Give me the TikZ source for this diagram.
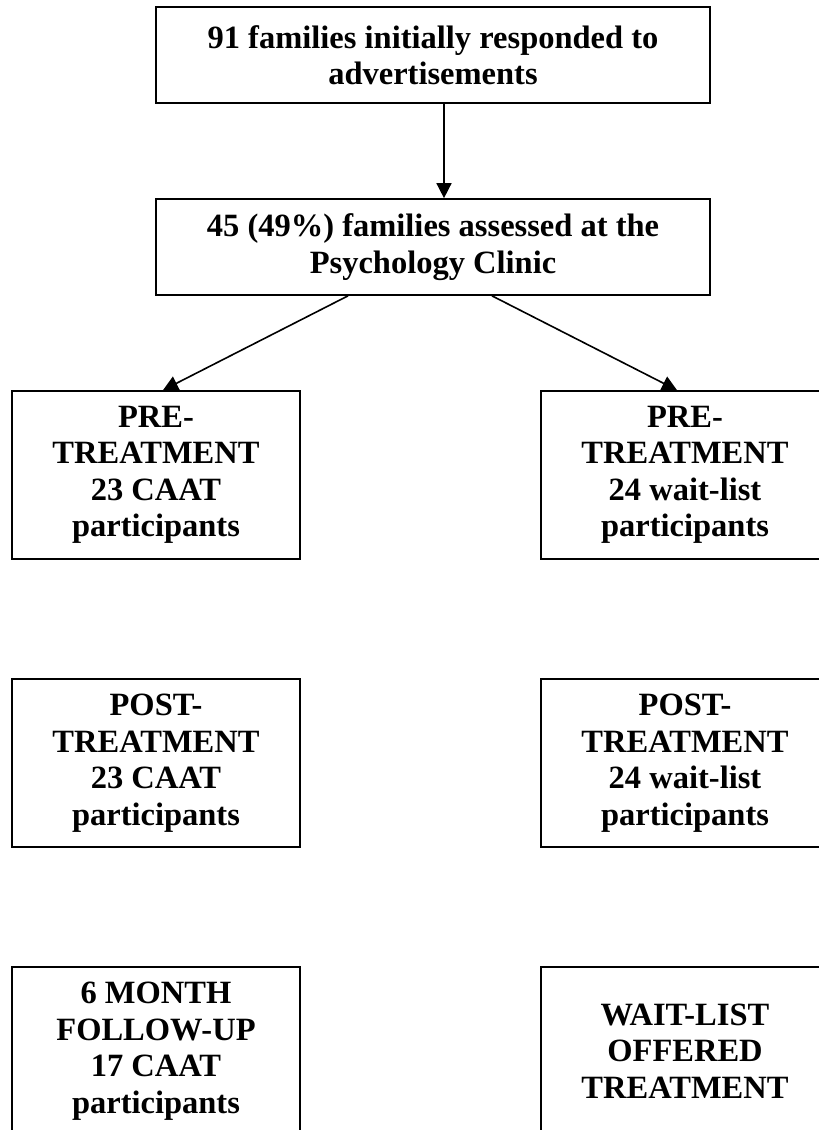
\documentclass[tikz,border=0pt]{standalone}
\usepackage{fontspec}
\setmainfont{Liberation Serif}
\usetikzlibrary{arrows.meta}

\tikzset{
  stage/.style={draw, line width=1.7pt, align=center, inner sep=0pt,
    font=\fontsize{32.5}{36.5}\selectfont\bfseries},
  widebox/.style={stage, minimum width=554pt, minimum height=96pt},
  armbox/.style={stage, minimum width=288pt, minimum height=168pt},
  flow/.style={line width=1.6pt, -{Triangle[length=15pt,width=15pt]}}
}

\begin{document}
\begin{tikzpicture}[x=1pt,y=-1pt]

    \useasboundingbox (0,0) rectangle (819,1130);

    \node (respond) at (433, 55) [widebox] {91 families initially responded to\\advertisements};
    \node (assess) at (433,247) [widebox] {45 (49\%) families assessed at the\\Psychology Clinic};

    % CAAT arm
    \node (preCAAT)  at (156, 475) [armbox] {PRE-\\TREATMENT\\23 CAAT\\participants};
    \node (postCAAT) at (156, 763) [armbox] {POST-\\TREATMENT\\23 CAAT\\participants};
    \node (followCAAT) at (156,1051) [armbox] {6 MONTH\\FOLLOW-UP\\17 CAAT\\participants};

    % wait-list arm
    \node (preWait)  at (685, 475) [armbox] {PRE-\\TREATMENT\\24 wait-list\\participants};
    \node (postWait) at (685, 763) [armbox] {POST-\\TREATMENT\\24 wait-list\\participants};
    \node (offerWait) at (685,1051) [armbox] {WAIT-LIST\\OFFERED\\TREATMENT};

    \draw[flow] ([xshift=11pt]respond.south) -- ([xshift=11pt]assess.north);
    \draw[flow] ([xshift=-85pt]assess.south) -- ([xshift=7pt]preCAAT.north);
    \draw[flow] ([xshift=59pt]assess.south) -- ([xshift=-8pt]preWait.north);

\end{tikzpicture}
\end{document}
